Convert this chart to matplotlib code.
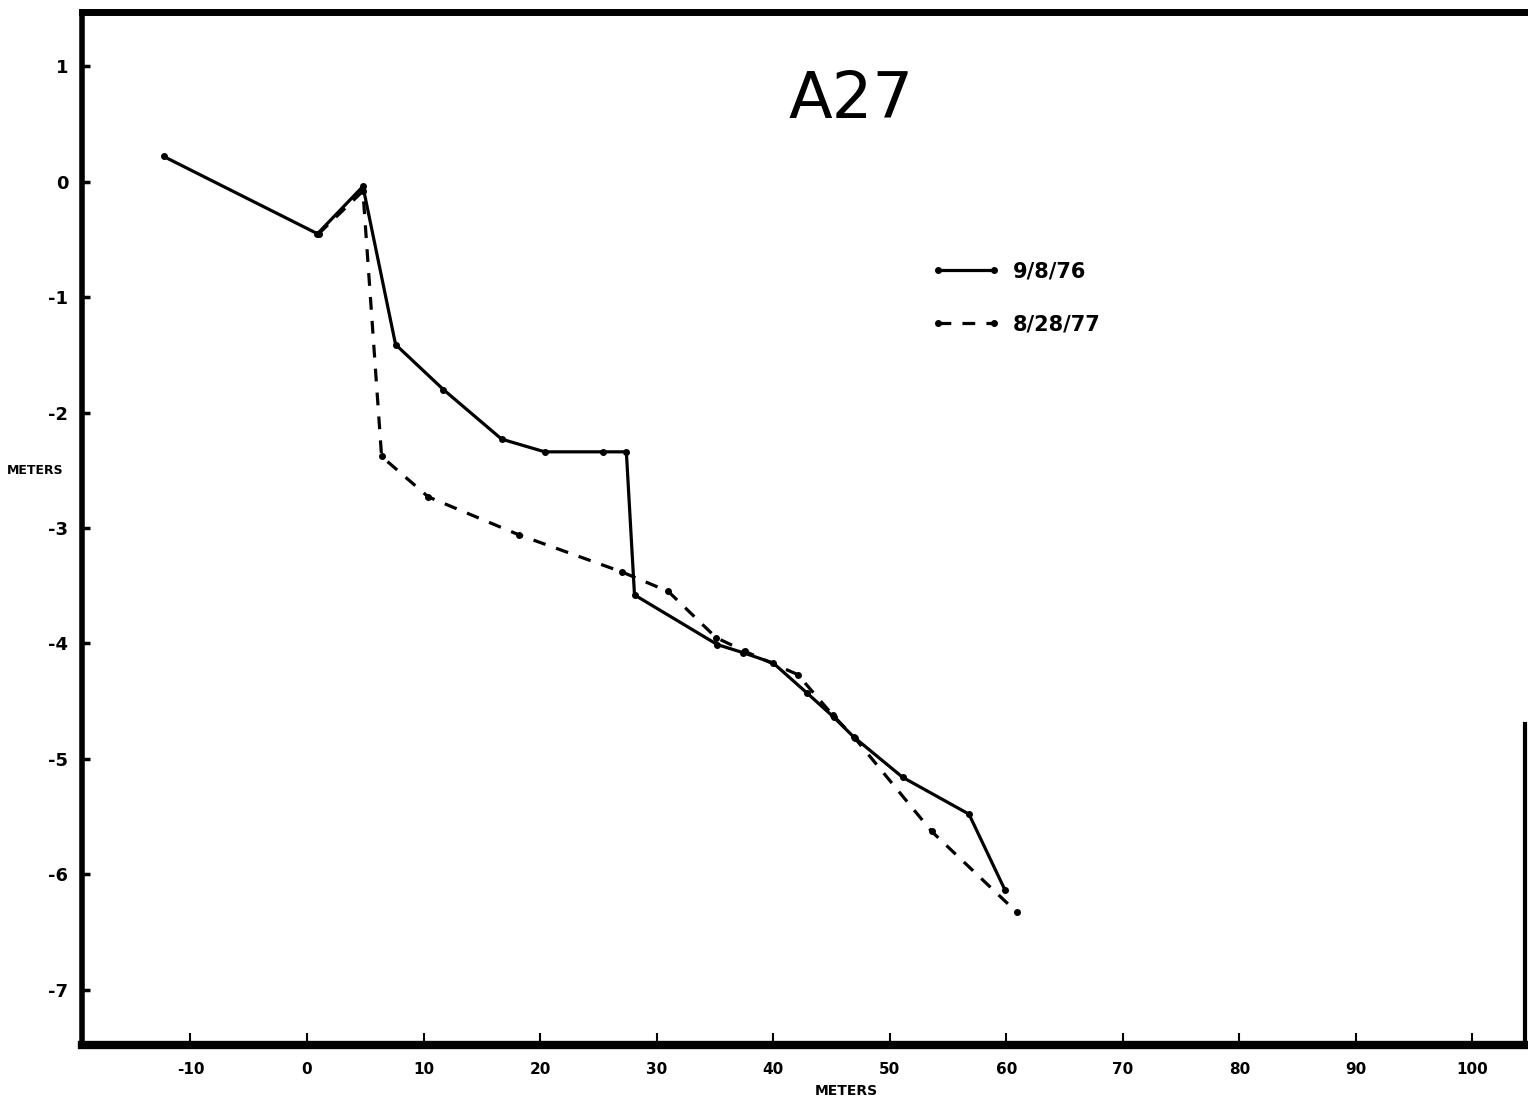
import numpy as np
import matplotlib.pyplot as plt
from matplotlib.ticker import FixedLocator

# profile A27, survey of 9/8/76
x_76 = [-12.3, 0.9, 4.8, 7.6, 11.7, 16.7, 20.4, 25.4, 27.4, 28.1, 35.2, 37.4,
        40.0, 42.9, 45.2, 46.9, 51.1, 56.8, 59.9]
y_76 = [0.22, -0.45, -0.04, -1.41, -1.80, -2.23, -2.34, -2.34, -2.34, -3.58,
        -4.01, -4.08, -4.17, -4.43, -4.64, -4.81, -5.16, -5.48, -6.14]

# survey of 8/28/77
x_77 = [1.0, 4.8, 6.4, 10.4, 18.2, 27.0, 31.0, 35.1, 37.6, 42.1, 45.1, 47.0,
        53.6, 60.9]
y_77 = [-0.45, -0.08, -2.38, -2.73, -3.06, -3.38, -3.55, -3.95, -4.07, -4.27,
        -4.62, -4.82, -5.63, -6.33]

xticks = [-10, 0, 10, 20, 30, 40, 50, 60, 70, 80, 90, 100]
yticks = [1, 0, -1, -2, -3, -4, -5, -6, -7]

plt.rcParams['font.family'] = 'DejaVu Sans'
plt.rcParams['font.weight'] = 'bold'

fig = plt.figure(figsize=(15.28, 11.08), dpi=100)
ax = fig.add_axes([0.0537, 0.0569, 0.9443, 0.9321])

ax.plot(x_76, y_76, '-', color='black', lw=2.3, marker='o', ms=4,
        label='9/8/76')
ax.plot(x_77, y_77, color='black', lw=2.3, ls=(0, (4, 3.5)), marker='o',
        ms=4, label='8/28/77')

ax.set_xlim(-19.3, 104.5)
ax.set_ylim(-7.48, 1.47)

ax.xaxis.set_major_locator(FixedLocator(xticks))
ax.yaxis.set_major_locator(FixedLocator(yticks))
ax.set_xticklabels([str(v) for v in xticks], fontsize=11, fontweight='bold')
ax.set_yticklabels([str(v) for v in yticks], fontsize=13, fontweight='bold')
ax.tick_params(axis='x', direction='in', length=9, width=1.5, pad=12)
ax.tick_params(axis='y', direction='in', length=6, width=2.5, pad=10)

ax.spines['left'].set_linewidth(4)
ax.spines['bottom'].set_linewidth(6)
ax.spines['top'].set_linewidth(5)
ax.spines['right'].set_linewidth(3)
ax.spines['right'].set_bounds(-7.48, -4.7)

ax.text(0.533, 0.915, 'A27', transform=ax.transAxes, fontsize=46,
        fontweight='normal', ha='center', va='center')

ax.text(0.53, -0.045, 'METERS', transform=ax.transAxes, fontsize=10,
        ha='center', va='center')
fig.text(0.023, 0.575, 'METERS', fontsize=9, ha='center', va='center')

ax.legend(loc='upper left', bbox_to_anchor=(0.576, 0.777), frameon=False,
          numpoints=2, handlelength=3.3, handletextpad=0.6, labelspacing=1.6,
          prop={'size': 15, 'weight': 'bold'})

fig.savefig('out.png', dpi=100)
